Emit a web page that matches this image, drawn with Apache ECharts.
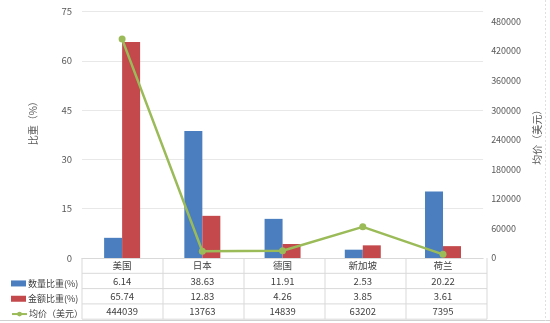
<!DOCTYPE html>
<html><head><meta charset="utf-8">
<script src="https://cdn.jsdelivr.net/npm/echarts@6/dist/echarts.min.js"></script>
<style>html,body{margin:0;padding:0;background:#fff}#c{width:550px;height:323px}</style>
</head><body><div id="c"></div>
<script>
const categories = ['美国', '日本', '德国', '新加坡', '荷兰'];
const qtyShare = [6.14, 38.63, 11.91, 2.53, 20.22];
const amtShare = [65.74, 12.83, 4.26, 3.85, 3.61];
const avgPrice = [444039, 13763, 14839, 63202, 7395];
const seriesNames = ['数量比重(%)', '金额比重(%)', '均价（美元）'];
const leftTicks = {min: 0, max: 75, interval: 15};
const rightTicks = {min: 0, max: 500000, interval: 60000};

const G = {left: 82, right: 63, top: 11.5, bottom: 65};
const W = 550, H = 323;
const x0 = G.left, x1 = W - G.right, yAxisPos = H - G.bottom;
const rowH = 15.3;
const lineCol = '#d9d9d9';
const graphics = [];
const nRows = 4;
for (let r = 1; r <= nRows; r++) {
  const y = yAxisPos + r * rowH;
  graphics.push({type: 'line', shape: {x1: x0, y1: y, x2: x1, y2: y}, style: {stroke: lineCol, lineWidth: 1}, silent: true});
}
const colW = (x1 - x0) / categories.length;
for (let i = 0; i <= categories.length; i++) {
  const x = x0 + i * colW;
  graphics.push({type: 'line', shape: {x1: x, y1: yAxisPos, x2: x, y2: yAxisPos + nRows * rowH}, style: {stroke: lineCol, lineWidth: 1}, silent: true});
}
graphics.push({type: 'line', shape: {x1: 0, y1: 320.5, x2: 550, y2: 320.5}, style: {stroke: '#d0d0d0', lineWidth: 1}, silent: true});
graphics.push({type: 'line', shape: {x1: 545.5, y1: 0, x2: 545.5, y2: 321}, style: {stroke: '#e0e0e0', lineWidth: 1, lineDash: [2, 2]}, silent: true});

const legendBase = {
  orient: 'vertical', left: 6,
  itemWidth: 15, itemHeight: 6,
  textStyle: {fontSize: 9, color: '#404040', padding: [0, 0, 0, -3]}
};
const legends = seriesNames.map((n, i) => Object.assign({}, legendBase, {
  top: yAxisPos + (i + 1) * rowH + rowH / 2 - 7,
  data: [i < 2 ? {name: n, icon: 'rect'} : {name: n}]
}));

const chart = echarts.init(document.getElementById('c'));
chart.setOption({
  animation: false,
  backgroundColor: '#fff',
  textStyle: {fontFamily: '"Noto Sans CJK SC", "Liberation Sans", sans-serif'},
  grid: {left: G.left, right: G.right, top: G.top, bottom: G.bottom, containLabel: false},
  legend: legends,
  xAxis: {
    type: 'category', data: categories,
    axisLine: {show: true, lineStyle: {color: lineCol}},
    axisTick: {show: false},
    axisLabel: {
      margin: 0, interval: 0,
      formatter: (v, i) => [v, qtyShare[i].toFixed(2), amtShare[i].toFixed(2), String(avgPrice[i])].join('\n'),
      fontSize: 9.5, lineHeight: rowH, color: '#404040'
    }
  },
  yAxis: [
    {
      type: 'value', min: leftTicks.min, max: leftTicks.max, interval: leftTicks.interval,
      name: '比重（%）', nameLocation: 'middle', nameRotate: 90, nameGap: 44,
      nameTextStyle: {fontSize: 10, color: '#595959', padding: [0, 0, 0, 28]},
      axisLine: {show: false}, axisTick: {show: false},
      axisLabel: {fontSize: 9.5, color: '#595959', margin: 10},
      splitLine: {lineStyle: {color: '#e8e8e8'}}
    },
    {
      type: 'value', min: rightTicks.min, max: rightTicks.max, interval: rightTicks.interval,
      name: '均价（美元）', nameLocation: 'middle', nameRotate: 90, nameGap: 42,
      nameTextStyle: {fontSize: 10, color: '#595959'},
      axisLine: {show: false}, axisTick: {show: false},
      axisLabel: {fontSize: 9, color: '#595959', margin: 8, showMaxLabel: false, formatter: v => String(v)},
      splitLine: {show: false}
    }
  ],
  series: [
    {name: seriesNames[0], type: 'bar', data: qtyShare, barWidth: 18, barGap: '0%', itemStyle: {color: '#4a7ebf'}},
    {name: seriesNames[1], type: 'bar', data: amtShare, barWidth: 18, itemStyle: {color: '#c3494c'}},
    {name: seriesNames[2], type: 'line', yAxisIndex: 1, data: avgPrice, symbol: 'circle', symbolSize: 7,
     lineStyle: {color: '#9bbb59', width: 2.5}, itemStyle: {color: '#9bbb59'}}
  ],
  graphic: graphics
});
</script></body></html>
